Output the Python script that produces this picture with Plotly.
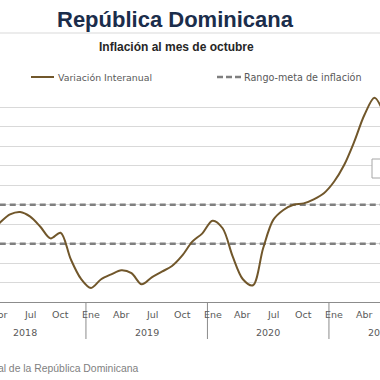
import plotly.graph_objects as go

# ---- data ----
# month index: 0 = Ene 2018
month_index = list(range(2, 42))
inflation = [3.60, 4.08, 4.50, 4.63, 4.39, 3.87, 3.27, 3.56, 2.20, 1.20,
             0.72, 1.17, 1.42, 1.63, 1.48, 0.91, 1.27, 1.56, 1.85, 2.38,
             3.10, 3.53, 4.18, 3.79, 2.33, 1.17, 0.86, 2.76, 4.22, 4.73,
             5.00, 5.07, 5.28, 5.59, 6.18, 7.04, 8.24, 9.61, 10.50, 9.60]
target_high = 5.0
target_low = 3.0
month_labels = ["Ene", "Abr", "Jul", "Oct"]
years = ["2018", "2019", "2020", "2021"]
year_months = [12, 12, 12, 10]  # months shown per year (2021 ends in octubre)

title = "República Dominicana"
subtitle = "Inflación al mes de octubre"
legend_line = "Variación Interanual"
legend_dash = "Rango-meta de inflación"
source = "Fuente: Banco Central de la República Dominicana"

BROWN = "#71572b"
GRAYDASH = "#7f7f7f"
TXT = "#595959"

W, H = 380, 380
T, B = 88, 78
PH = H - T - B  # plot height 214
XMIN, XMAX = 3.012, 40.543


def py(pix):
    """pixel y -> paper y"""
    return (H - B - pix) / PH


def px(m):
    """month index -> paper x"""
    return (m - XMIN) / (XMAX - XMIN)


fig = go.Figure()

xr = [month_index[0], month_index[-1]]
fig.add_trace(go.Scatter(x=xr, y=[target_high] * 2, mode="lines",
                         line=dict(color=GRAYDASH, width=2.5, dash="6px,4px"),
                         hoverinfo="skip"))
fig.add_trace(go.Scatter(x=xr, y=[target_low] * 2, mode="lines",
                         line=dict(color=GRAYDASH, width=2.5, dash="6px,4px"),
                         hoverinfo="skip"))
fig.add_trace(go.Scatter(x=month_index, y=inflation, mode="lines",
                         line=dict(color=BROWN, width=2, shape="spline", smoothing=0.9)))

ann = []
shapes = []
# month tick labels
for m in range(0, 46, 3):
    ann.append(dict(x=px(m), y=py(314), xref="paper", yref="paper", text=month_labels[(m // 3) % 4],
                    showarrow=False, font=dict(family="DejaVu Sans", size=9.5, color=TXT),
                    xanchor="center", yanchor="middle"))
# year labels and separators
for i, yv in enumerate(years):
    center = 12 * i + (year_months[i] - 1) / 2
    ann.append(dict(x=px(center), y=py(332), xref="paper", yref="paper", text=yv,
                    showarrow=False, font=dict(family="DejaVu Sans", size=9.5, color=TXT),
                    xanchor="center", yanchor="middle"))
    shapes.append(dict(type="line", xref="x", yref="paper", x0=12 * i - 0.5, x1=12 * i - 0.5,
                       y0=0, y1=py(339), line=dict(color="#8c8c8c", width=1)))

# title, subtitle
ann.append(dict(x=175.5 / W, y=1 + (T - 20) / PH, xref="paper", yref="paper", text="<b>%s</b>" % title,
                showarrow=False, font=dict(family="Liberation Sans", size=22, color="#1b2d4b"),
                xanchor="center", yanchor="middle"))
ann.append(dict(x=176.5 / W, y=1 + (T - 47) / PH, xref="paper", yref="paper", text="<b>%s</b>" % subtitle,
                showarrow=False, font=dict(family="Liberation Sans", size=12, color="#262626"),
                xanchor="center", yanchor="middle"))
shapes.append(dict(type="line", xref="paper", yref="paper", x0=0, x1=1,
                   y0=1 + (T - 33) / PH, y1=1 + (T - 33) / PH, line=dict(color="#d9d9d9", width=1)))

# legend
ly = 1 + (T - 77) / PH
shapes.append(dict(type="line", xref="paper", yref="paper", x0=31 / W, x1=54 / W, y0=ly, y1=ly,
                   line=dict(color=BROWN, width=2)))
shapes.append(dict(type="line", xref="paper", yref="paper", x0=217 / W, x1=241 / W, y0=ly, y1=ly,
                   line=dict(color=GRAYDASH, width=2.5, dash="6px,3px")))
ann.append(dict(x=56 / W, y=ly, xref="paper", yref="paper", text=legend_line, showarrow=False,
                font=dict(family="DejaVu Sans", size=9.4, color=TXT), xanchor="left", yanchor="middle"))
ann.append(dict(x=242 / W, y=ly, xref="paper", yref="paper", text=legend_dash, showarrow=False,
                font=dict(family="DejaVu Sans", size=9.6, color=TXT), xanchor="left", yanchor="middle"))

# source
ann.append(dict(x=140 / W, y=py(368), xref="paper", yref="paper", text=source, showarrow=False,
                font=dict(family="Liberation Sans", size=10.4, color="#7f7f7f"),
                xanchor="right", yanchor="middle"))

# partial label box at right edge
x0, x1 = 372 / W, 392 / W
y0, y1 = py(178), py(159)
shapes.append(dict(type="rect", xref="paper", yref="paper", x0=x0, x1=x1, y0=y0, y1=y1,
                   line=dict(color="#a6a6a6", width=1), fillcolor="white"))

fig.update_layout(
    width=W, height=H, margin=dict(l=0, r=0, t=T, b=B),
    plot_bgcolor="white", paper_bgcolor="white", showlegend=False,
    xaxis=dict(range=[XMIN, XMAX], showgrid=False, zeroline=False, showticklabels=False,
               showline=True, linecolor="#8c8c8c", linewidth=1, ticks=""),
    yaxis=dict(range=[0, 11], dtick=1, showgrid=True, gridcolor="#d9d9d9", gridwidth=1,
               zeroline=False, showticklabels=False, showline=False),
    annotations=ann, shapes=shapes,
)

fig.write_html("out.html", config={"displayModeBar": False},
               post_script="document.body.style.margin='0px';document.body.style.overflow='hidden';")
